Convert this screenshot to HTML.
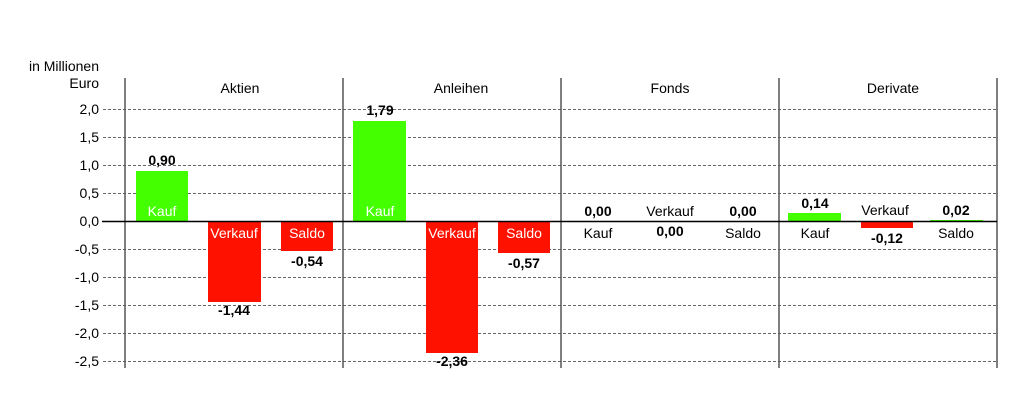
<!DOCTYPE html>
<html><head><meta charset="utf-8"><style>
html,body{margin:0;padding:0;background:#fff;width:1022px;height:413px;overflow:hidden}
svg text{font-family:"Liberation Sans",Arial,sans-serif;font-size:14px;fill:#000}
.b{font-weight:bold;font-size:14px}
.w{fill:#fff}
</style></head><body>
<svg width="1022" height="413" xmlns="http://www.w3.org/2000/svg">
<g stroke="#666" stroke-dasharray="3,2" stroke-width="1">
<line x1="103" x2="997" y1="109.5" y2="109.5"/>
<line x1="103" x2="997" y1="137.5" y2="137.5"/>
<line x1="103" x2="997" y1="165.5" y2="165.5"/>
<line x1="103" x2="997" y1="193.5" y2="193.5"/>
<line x1="103" x2="997" y1="249.5" y2="249.5"/>
<line x1="103" x2="997" y1="277.5" y2="277.5"/>
<line x1="103" x2="997" y1="305.5" y2="305.5"/>
<line x1="103" x2="997" y1="333.5" y2="333.5"/>
<line x1="103" x2="997" y1="361.5" y2="361.5"/>
</g>
<g fill="#44ff00">
<rect x="136" y="171" width="52" height="50"/>
<rect x="353" y="121" width="53" height="100"/>
<rect x="788" y="213" width="53" height="8"/>
<rect x="930" y="220" width="53" height="1"/>
</g>
<g fill="#ff1100">
<rect x="208" y="221" width="53" height="81"/>
<rect x="281" y="221" width="52" height="30"/>
<rect x="426" y="221" width="52" height="132"/>
<rect x="498" y="221" width="52" height="32"/>
<rect x="861" y="221" width="52" height="7"/>
</g>
<g stroke="#555" stroke-width="1.5">
<line x1="125" x2="125" y1="78" y2="368"/>
<line x1="343" x2="343" y1="78" y2="368"/>
<line x1="561" x2="561" y1="78" y2="368"/>
<line x1="779" x2="779" y1="78" y2="368"/>
<line x1="997" x2="997" y1="78" y2="368"/>
</g>
<line x1="102" x2="997" y1="221.5" y2="221.5" stroke="#000" stroke-width="1.5"/>
<g text-anchor="end">
<text x="99" y="71">in Millionen</text>
<text x="99" y="88">Euro</text>
<text x="99" y="114">2,0</text>
<text x="99" y="142">1,5</text>
<text x="99" y="170">1,0</text>
<text x="99" y="198">0,5</text>
<text x="99" y="226">0,0</text>
<text x="99" y="254">-0,5</text>
<text x="99" y="282">-1,0</text>
<text x="99" y="310">-1,5</text>
<text x="99" y="338">-2,0</text>
<text x="99" y="366">-2,5</text>
</g>
<g text-anchor="middle">
<text x="240" y="93">Aktien</text>
<text x="461" y="93">Anleihen</text>
<text x="670" y="93">Fonds</text>
<text x="893" y="93">Derivate</text>
<text class="b" x="162" y="165">0,90</text>
<text class="w" x="162" y="216">Kauf</text>
<text class="w" x="234" y="238">Verkauf</text>
<text class="b" x="234" y="315">-1,44</text>
<text class="w" x="307" y="238">Saldo</text>
<text class="b" x="307" y="266">-0,54</text>
<text class="b" x="380" y="115">1,79</text>
<text class="w" x="380" y="216">Kauf</text>
<text class="w" x="452" y="238">Verkauf</text>
<text class="b" x="452" y="366">-2,36</text>
<text class="w" x="524" y="238">Saldo</text>
<text class="b" x="524" y="268">-0,57</text>
<text class="b" x="598" y="216">0,00</text>
<text x="598" y="238">Kauf</text>
<text x="670" y="216">Verkauf</text>
<text class="b" x="670" y="236">0,00</text>
<text class="b" x="743" y="216">0,00</text>
<text x="743" y="238">Saldo</text>
<text class="b" x="815" y="208">0,14</text>
<text x="815" y="238">Kauf</text>
<text x="885" y="215">Verkauf</text>
<text class="b" x="887" y="243">-0,12</text>
<text class="b" x="956" y="215">0,02</text>
<text x="956" y="238">Saldo</text>
</g>
</svg>
</body></html>
